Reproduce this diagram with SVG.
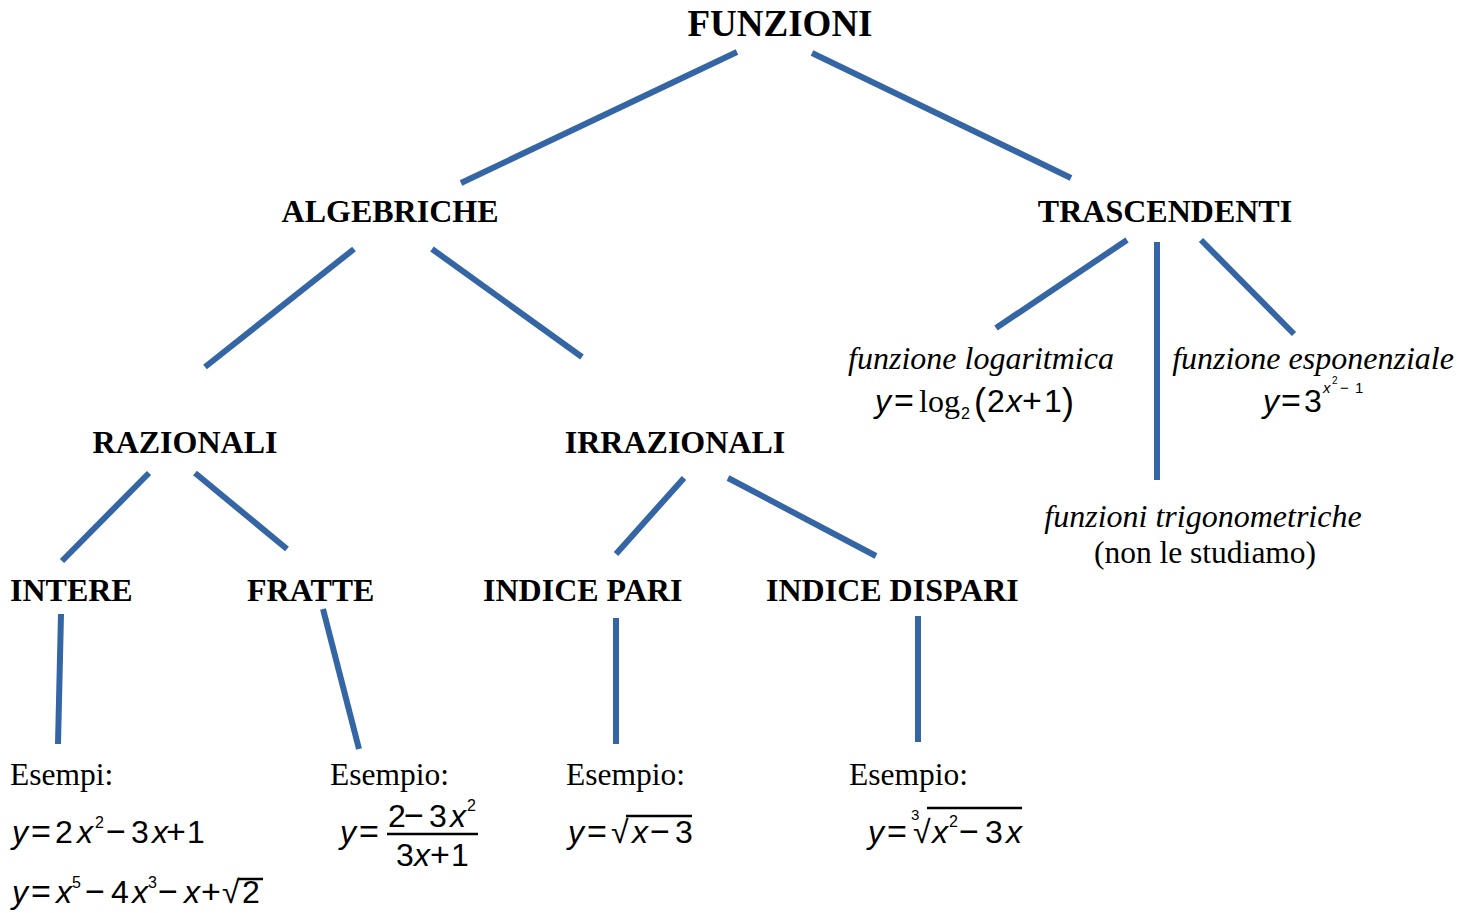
<svg xmlns="http://www.w3.org/2000/svg" width="1474" height="913" viewBox="0 0 1474 913">
<style>
.h{font-family:"Liberation Serif",serif;font-weight:bold;font-size:32px;fill:#000}
.t{font-family:"Liberation Serif",serif;font-size:31.5px;fill:#000}
.ti{font-family:"Liberation Serif",serif;font-style:italic;font-size:32px;fill:#000}
.m{font-family:"Liberation Sans",sans-serif;font-size:32px;fill:#000}
.v{font-style:italic}
.o{font-size:34px}
.c line{stroke:#3465A4;stroke-width:6;stroke-linecap:butt}
.ml{stroke:#000;stroke-width:2.5}
</style>
<rect width="1474" height="913" fill="#fff"/>
<g class="c" id="connectors">
<line x1="737" y1="52" x2="461" y2="183"/>
<line x1="812" y1="53" x2="1071" y2="178"/>
<line x1="354" y1="249" x2="205" y2="367"/>
<line x1="432" y1="249" x2="582" y2="357"/>
<line x1="1127" y1="240" x2="996" y2="328"/>
<line x1="1157" y1="242" x2="1157" y2="480"/>
<line x1="1201" y1="240" x2="1294" y2="334"/>
<line x1="149" y1="473" x2="62" y2="561"/>
<line x1="195" y1="473" x2="287" y2="549"/>
<line x1="684" y1="478" x2="616" y2="554"/>
<line x1="728" y1="478" x2="876" y2="556"/>
<line x1="61" y1="614" x2="58" y2="744"/>
<line x1="323" y1="609" x2="359" y2="749"/>
<line x1="616" y1="618" x2="616" y2="744"/>
<line x1="918" y1="616" x2="918" y2="742"/>
</g>
<g id="funzioni"><text class="h" x="780" y="36" text-anchor="middle" style="font-size:37px">FUNZIONI</text></g>
<g id="algebriche"><text class="h" x="390" y="222" text-anchor="middle">ALGEBRICHE</text></g>
<g id="trascendenti"><text class="h" x="1165" y="222" text-anchor="middle">TRASCENDENTI</text></g>
<g id="razionali"><text class="h" x="185" y="453" text-anchor="middle">RAZIONALI</text></g>
<g id="irrazionali"><text class="h" x="675" y="453" text-anchor="middle">IRRAZIONALI</text></g>
<g id="intere"><text class="h" x="10" y="601">INTERE</text></g>
<g id="fratte"><text class="h" x="247" y="601">FRATTE</text></g>
<g id="indice-pari"><text class="h" x="483" y="601">INDICE PARI</text></g>
<g id="indice-dispari"><text class="h" x="766" y="601">INDICE DISPARI</text></g>
<g id="logaritmica">
<text class="ti" x="981" y="369" text-anchor="middle">funzione logaritmica</text>
<text class="m" y="412"><tspan class="v" x="875">y</tspan><tspan class="o" x="894">=</tspan><tspan x="919" style="font-family:'Liberation Serif',serif">log</tspan><tspan x="961" y="419" style="font-size:16px">2</tspan><tspan x="974" y="414" style="font-size:36px">(</tspan><tspan x="987" y="412">2</tspan><tspan class="v" x="1006">x</tspan><tspan class="o" x="1022">+</tspan><tspan x="1044">1</tspan><tspan x="1062" y="414" style="font-size:36px">)</tspan></text>
</g>
<g id="esponenziale">
<text class="ti" x="1313" y="369" text-anchor="middle">funzione esponenziale</text>
<text class="m" y="412"><tspan class="v" x="1263">y</tspan><tspan class="o" x="1281">=</tspan><tspan x="1304">3</tspan><tspan class="v" x="1323" y="393" style="font-size:15px">x</tspan><tspan x="1332" y="384" style="font-size:10px">2</tspan><tspan x="1340" y="393" style="font-size:15px">−</tspan><tspan x="1355" y="393" style="font-size:15px">1</tspan></text>
</g>
<g id="trigonometriche">
<text class="ti" x="1203" y="527" text-anchor="middle">funzioni trigonometriche</text>
<text class="t" x="1205" y="563" text-anchor="middle">(non le studiamo)</text>
</g>
<g id="esempi-intere">
<text class="t" x="10" y="785">Esempi:</text>
<text class="m" y="843"><tspan class="v" x="12">y</tspan><tspan class="o" x="31">=</tspan><tspan x="55">2</tspan><tspan class="v" x="77">x</tspan><tspan x="95" y="828" style="font-size:16px">2</tspan><tspan class="o" x="106" y="843">−</tspan><tspan x="131">3</tspan><tspan class="v" x="152">x</tspan><tspan class="o" x="166">+</tspan><tspan x="187">1</tspan></text>
<text class="m" y="903"><tspan class="v" x="12">y</tspan><tspan class="o" x="31">=</tspan><tspan class="v" x="56">x</tspan><tspan x="72" y="888" style="font-size:16px">5</tspan><tspan class="o" x="85" y="903">−</tspan><tspan x="111">4</tspan><tspan class="v" x="132">x</tspan><tspan x="148" y="888" style="font-size:16px">3</tspan><tspan class="o" x="158" y="903">−</tspan><tspan class="v" x="184">x</tspan><tspan class="o" x="201">+</tspan><tspan x="222">√</tspan><tspan x="242">2</tspan></text>
<line class="ml" x1="238" y1="879" x2="263" y2="879"/>
</g>
<g id="esempio-fratte">
<text class="t" x="330" y="785">Esempio:</text>
<text class="m" y="843"><tspan class="v" x="340">y</tspan><tspan class="o" x="359">=</tspan></text>
<line class="ml" x1="387" y1="834" x2="478" y2="834"/>
<text class="m" y="827"><tspan x="388">2</tspan><tspan class="o" x="404">−</tspan><tspan x="429">3</tspan><tspan class="v" x="450">x</tspan><tspan x="467" y="811" style="font-size:16px">2</tspan></text>
<text class="m" y="866"><tspan x="396">3</tspan><tspan class="v" x="414">x</tspan><tspan class="o" x="430">+</tspan><tspan x="451">1</tspan></text>
</g>
<g id="esempio-pari">
<text class="t" x="566" y="785">Esempio:</text>
<text class="m" y="843"><tspan class="v" x="568">y</tspan><tspan class="o" x="587">=</tspan><tspan x="611">√</tspan><tspan class="v" x="632">x</tspan><tspan class="o" x="650">−</tspan><tspan x="675">3</tspan></text>
<line class="ml" x1="626" y1="816" x2="692" y2="816"/>
</g>
<g id="esempio-dispari">
<text class="t" x="849" y="785">Esempio:</text>
<text class="m" y="843"><tspan class="v" x="868">y</tspan><tspan class="o" x="887">=</tspan><tspan x="911" y="820" style="font-size:15px">3</tspan><tspan x="913" y="843">√</tspan><tspan class="v" x="932">x</tspan><tspan x="949" y="827" style="font-size:16px">2</tspan><tspan class="o" x="959" y="843">−</tspan><tspan x="985">3</tspan><tspan class="v" x="1006">x</tspan></text>
<line class="ml" x1="927" y1="808" x2="1022" y2="808"/>
</g>
</svg>
